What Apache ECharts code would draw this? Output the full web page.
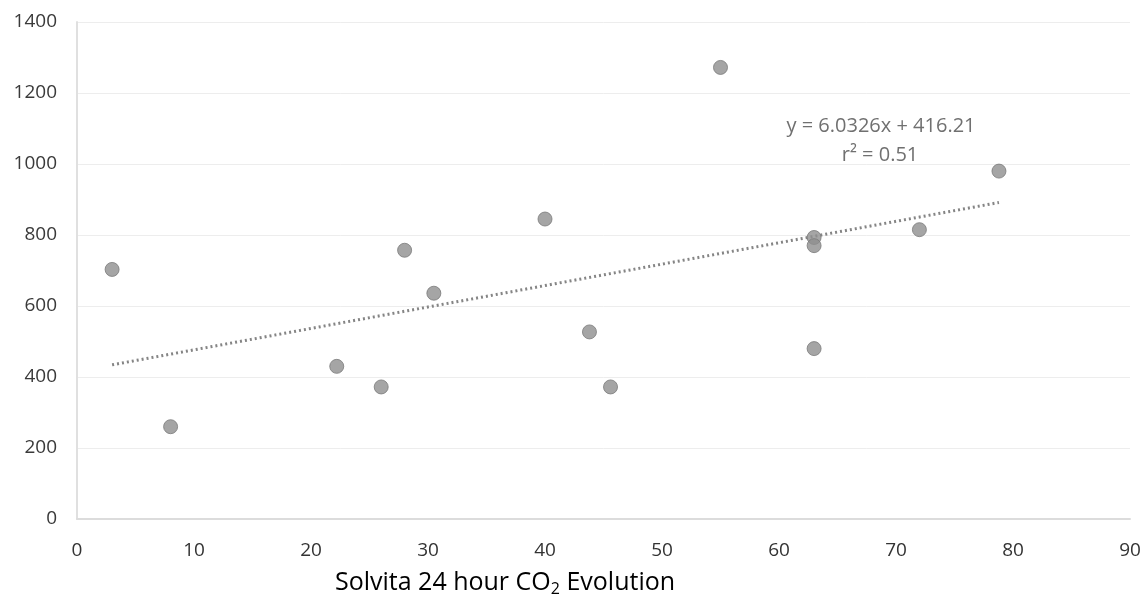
<!DOCTYPE html>
<html>
<head>
<meta charset="utf-8">
<script src="https://cdn.jsdelivr.net/npm/echarts@6/dist/echarts.min.js"></script>
<style>html,body{margin:0;padding:0;background:#fff}#c{width:1147px;height:598px}</style>
</head>
<body>
<div id="c"></div>
<script>
var xValues = [3, 8, 22.2, 26, 28, 30.5, 40, 43.8, 45.6, 55, 63, 63, 63, 72, 78.8];
var yValues = [703, 260, 430, 372, 757, 636, 845, 527, 372, 1272, 793, 770, 480, 815, 980];
var trendSlope = 6.0326;
var trendIntercept = 416.21;
var trendXRange = [3, 78.8];
var equationText = 'y = 6.0326x + 416.21';
var r2Text = 'r² = 0.51';
var xAxisTitle = ['Solvita 24 hour CO', '2', ' Evolution'];

var points = xValues.map(function (x, i) { return [x, yValues[i]]; });
var trend = trendXRange.map(function (x) { return [x, trendSlope * x + trendIntercept]; });

var chart = echarts.init(document.getElementById('c'), null, {renderer: 'canvas'});
chart.setOption({
  backgroundColor: '#ffffff',
  animation: false,
  grid: {left: 77, right: 17, top: 22, bottom: 79},
  xAxis: {
    type: 'value', min: 0, max: 90, interval: 10,
    axisLine: {show: true, lineStyle: {color: '#dcdcdc', width: 2}},
    axisTick: {show: false},
    splitLine: {show: false},
    axisLabel: {color: '#333', fontSize: 19, fontFamily: 'Open Sans', margin: 22}
  },
  yAxis: {
    type: 'value', min: 0, max: 1400, interval: 200,
    axisLine: {show: true, lineStyle: {color: '#e0e0e0', width: 2}},
    axisTick: {show: false},
    splitLine: {show: true, lineStyle: {color: '#ededed', width: 1}},
    axisLabel: {color: '#3a3a3a', fontSize: 19, fontFamily: 'Open Sans', margin: 20,
      formatter: function (v) { return String(v); }}
  },
  series: [
    {
      type: 'line', data: trend, symbol: 'none', silent: true,
      lineStyle: {color: '#858585', width: 3, type: [2, 3]},
      z: 1
    },
    {
      type: 'scatter', data: points, symbol: 'circle', symbolSize: 14,
      itemStyle: {color: '#8e8e8e', borderColor: '#7a7a7a', borderWidth: 1},
      z: 2
    }
  ],
  graphic: [
    {type: 'text', x: 881, y: 126, style: {text: equationText, fill: '#707070', font: '20px "Open Sans"', textAlign: 'center', textVerticalAlign: 'middle'}},
    {type: 'text', x: 880, y: 155, style: {text: r2Text, fill: '#707070', font: '20px "Open Sans"', textAlign: 'center', textVerticalAlign: 'middle'}},
    {type: 'text', x: 505, y: 583, style: {
      text: '{a|' + xAxisTitle[0] + '}{s|' + xAxisTitle[1] + '}{a|' + xAxisTitle[2] + '}',
      textAlign: 'center', textVerticalAlign: 'middle',
      rich: {
        a: {fontSize: 25, fontFamily: 'Open Sans', color: '#222'},
        s: {fontSize: 16, fontFamily: 'Open Sans', color: '#222', padding: [12, 0, 0, 0]}
      }
    }}
  ]
});
</script>
</body>
</html>
